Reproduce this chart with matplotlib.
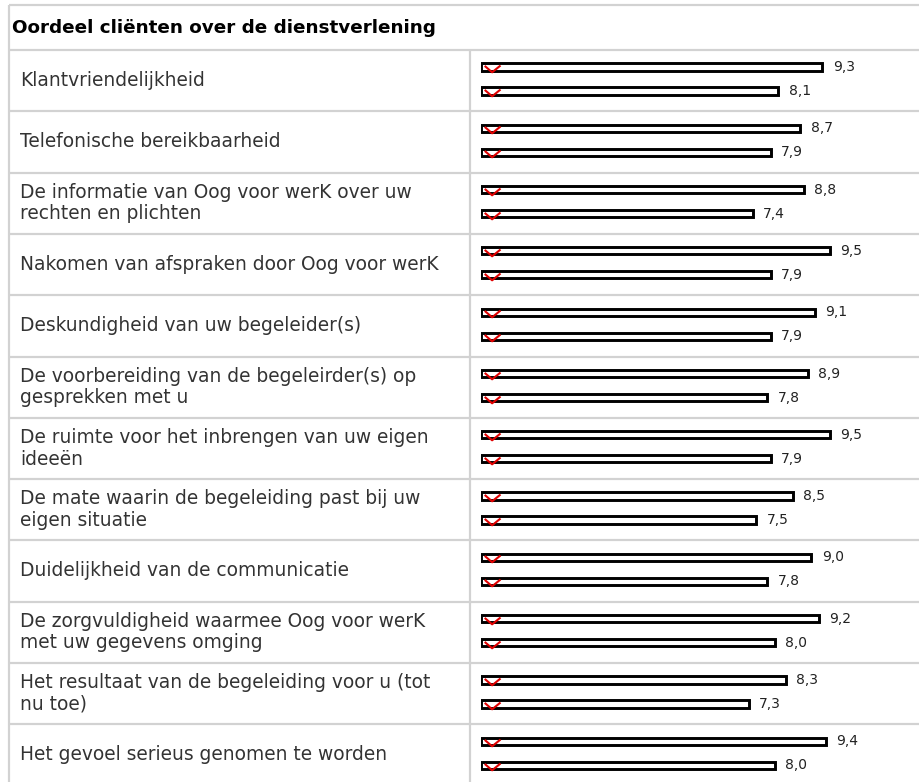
import matplotlib
matplotlib.use("Agg")
import matplotlib.pyplot as plt
from matplotlib.path import Path

# onderwerpen en rapportcijfers (twee metingen per onderwerp)
onderwerpen = [
    "Klantvriendelijkheid",
    "Telefonische bereikbaarheid",
    "De informatie van Oog voor werK over uw\nrechten en plichten",
    "Nakomen van afspraken door Oog voor werK",
    "Deskundigheid van uw begeleider(s)",
    "De voorbereiding van de begeleirder(s) op\ngesprekken met u",
    "De ruimte voor het inbrengen van uw eigen\nideeën",
    "De mate waarin de begeleiding past bij uw\neigen situatie",
    "Duidelijkheid van de communicatie",
    "De zorgvuldigheid waarmee Oog voor werK\nmet uw gegevens omging",
    "Het resultaat van de begeleiding voor u (tot\nnu toe)",
    "Het gevoel serieus genomen te worden",
]
score_a = [9.3, 8.7, 8.8, 9.5, 9.1, 8.9, 9.5, 8.5, 9.0, 9.2, 8.3, 9.4]
score_b = [8.1, 7.9, 7.4, 7.9, 7.9, 7.8, 7.9, 7.5, 7.8, 8.0, 7.3, 8.0]
titel = "Oordeel cliënten over de dienstverlening"

W, H = 920, 782
fig = plt.figure(figsize=(W / 100, H / 100), dpi=100)

# tabel in pixel-coordinaten
ax = fig.add_axes([0, 0, 1, 1])
ax.set_xlim(0, W)
ax.set_ylim(H, 0)
ax.axis("off")

grijs = "#d2d2d2"
links, midden, boven, kop = 9, 470, 5, 50
rij = 61.3

ax.plot([links, W], [boven, boven], color=grijs, lw=1.6, solid_capstyle="butt")
ax.plot([links, links], [boven, H], color=grijs, lw=1.6, solid_capstyle="butt")
ax.plot([midden, midden], [kop, H], color=grijs, lw=1.6, solid_capstyle="butt")
for i in range(len(onderwerpen)):
    y = kop + i * rij
    ax.plot([links, W], [y, y], color=grijs, lw=1.6, solid_capstyle="butt")

ax.text(12, 28, titel, fontsize=13.2, fontweight="bold", color="black",
        va="center", ha="left")

for i, t in enumerate(onderwerpen):
    ax.text(20, kop + i * rij + 30.5, t, fontsize=13.4, color="#333333",
            va="center", ha="left", linespacing=1.17)

# staafjes: waarde 0 op x=481 px, 36.7 px per punt
bx = fig.add_axes([481 / W, 0, 367 / W, 1])
bx.set_xlim(0, 10)
bx.set_ylim(H, 0)
bx.axis("off")

ya = [kop + i * rij + 17 for i in range(len(onderwerpen))]
yb = [kop + i * rij + 41 for i in range(len(onderwerpen))]

for ys, vals in ((ya, score_a), (yb, score_b)):
    bx.barh(ys, vals, height=7.2, left=0, color="white", edgecolor="black",
            linewidth=2.1)
    for y, v in zip(ys, vals):
        bx.annotate(f"{v:.1f}".replace(".", ","), (v, y), xytext=(7.5, 0),
                    textcoords="offset points", fontsize=10, color="#222222",
                    va="center", ha="left")

# rood vinkje links in elke staaf
vink = Path([(0.16, 0.08), (0.53, -0.24), (0.95, 0.1)],
            [Path.MOVETO, Path.LINETO, Path.LINETO])
for ys in (ya, yb):
    bx.plot([0] * len(ys), ys, linestyle="none", marker=vink, markersize=27.4,
            markeredgecolor="#e00000", markerfacecolor="none",
            markeredgewidth=1.5, clip_on=False)

fig.savefig("out.png", dpi=100)
